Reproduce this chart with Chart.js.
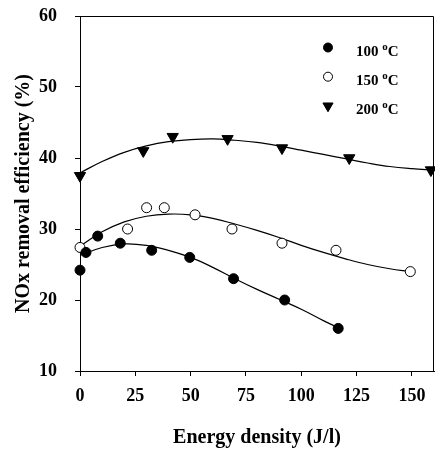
<!DOCTYPE html>
<html>
<head>
<meta charset="utf-8">
<script src="https://cdn.jsdelivr.net/npm/chart.js@4.4.1/dist/chart.umd.min.js"></script>
<style>
  html, body { margin: 0; padding: 0; background: #fff; }
  canvas { display: block; }
</style>
</head>
<body>
<canvas id="noxChart" width="435" height="452"></canvas>
<script>
// measured points, energy density (J/l) vs NOx removal (%)
var energy100 = [0, 2.7, 8.0, 18.2, 32.4, 49.6, 69.4, 92.5, 116.7];
var nox100 = [24.2, 26.7, 29.0, 28.0, 27.0, 26.0, 23.0, 20.0, 16.0];
var energy150 = [0, 21.5, 30.1, 38.1, 52.0, 68.7, 91.3, 115.7, 149.3];
var nox150 = [27.4, 30.0, 33.0, 33.0, 32.0, 30.0, 28.0, 27.0, 24.0];
var energy200 = [0, 28.6, 41.9, 66.7, 91.3, 121.7, 158.6];
var nox200 = [37.5, 41.0, 43.0, 42.7, 41.4, 40.0, 38.3];

// fitted trend curves
var fitX100 = [0, 10, 20, 30, 40, 50, 60, 70, 80, 90, 100, 110, 116.7];
var fitY100 = [26.3, 27.4, 27.9, 27.7, 27.0, 26.0, 24.6, 23.0, 21.5, 20.1, 18.7, 17.1, 16.1];
var fitX150 = [0, 10, 20, 30, 40, 50, 60, 70, 80, 90, 100, 110, 120, 130, 140, 149.3];
var fitY150 = [27.6, 29.6, 31.0, 31.8, 32.1, 32.0, 31.5, 30.7, 29.8, 28.8, 27.7, 26.7, 25.8, 25.0, 24.4, 24.0];
var fitX200 = [0, 10, 20, 30, 40, 50, 60, 70, 80, 90, 100, 110, 120, 130, 140, 150, 160];
var fitY200 = [37.9, 39.5, 40.8, 41.7, 42.3, 42.6, 42.7, 42.5, 42.2, 41.7, 41.1, 40.5, 39.9, 39.3, 38.8, 38.5, 38.3];

var temps = ['100', '150', '200'];
var xTicks = [0, 25, 50, 75, 100, 125, 150];
var yTicks = [10, 20, 30, 40, 50, 60];

var serif = "'Liberation Serif', 'Times New Roman', Times, serif";

function toXY(xs, ys) {
  return xs.map(function (x, i) { return { x: x, y: ys[i] }; });
}

var markers = [
  { pointStyle: 'circle', radius: 5, rotation: 0, fill: '#000' },
  { pointStyle: 'circle', radius: 5, rotation: 0, fill: '#fff' },
  { pointStyle: 'triangle', radius: 6.5, rotation: 180, fill: '#000' }
];

function pointSet(xs, ys, m) {
  return {
    data: toXY(xs, ys),
    showLine: false,
    pointStyle: m.pointStyle,
    pointRotation: m.rotation,
    pointRadius: m.radius,
    pointBackgroundColor: m.fill,
    pointBorderColor: '#000',
    pointBorderWidth: 1,
    clip: false,
    order: 0
  };
}

function fitSet(xs, ys) {
  return {
    data: toXY(xs, ys),
    showLine: true,
    borderColor: '#000',
    borderWidth: 1.2,
    pointRadius: 0,
    tension: 0.4,
    fill: false,
    clip: false,
    order: 1
  };
}

// top and right edges of the plot box
var frame = {
  id: 'frame',
  afterDraw: function (chart) {
    var a = chart.chartArea, ctx = chart.ctx;
    ctx.save();
    ctx.strokeStyle = '#000';
    ctx.lineWidth = 1;
    ctx.beginPath();
    ctx.moveTo(a.left, a.top + 0.5);
    ctx.lineTo(a.right - 0.5, a.top + 0.5);
    ctx.lineTo(a.right - 0.5, a.bottom);
    ctx.stroke();
    ctx.restore();
  }
};

// legend with superscript degree "o"
var tempLegend = {
  id: 'tempLegend',
  afterDraw: function (chart) {
    var a = chart.chartArea, ctx = chart.ctx;
    var mx = a.right - 106, tx = a.right - 78;
    ctx.save();
    temps.forEach(function (t, i) {
      var y = a.top + 31.5 + i * 29.2;
      var m = markers[i];
      ctx.fillStyle = m.fill;
      ctx.strokeStyle = '#000';
      ctx.lineWidth = 1;
      Chart.helpers.drawPoint(ctx, {
        pointStyle: m.pointStyle,
        rotation: m.rotation,
        radius: m.radius * 0.9,
        borderWidth: 1
      }, mx, y);
      ctx.fillStyle = '#000';
      ctx.textBaseline = 'alphabetic';
      ctx.textAlign = 'left';
      var base = y + 8.5;
      ctx.font = 'bold 15px ' + serif;
      var s = t + ' ';
      ctx.fillText(s, tx, base);
      var x = tx + ctx.measureText(s).width;
      ctx.font = 'bold 11px ' + serif;
      ctx.fillText('o', x, base - 6);
      x += ctx.measureText('o').width;
      ctx.font = 'bold 15px ' + serif;
      ctx.fillText('C', x, base);
    });
    ctx.restore();
  }
};

new Chart(document.getElementById('noxChart'), {
  type: 'scatter',
  data: {
    datasets: [
      pointSet(energy100, nox100, markers[0]),
      pointSet(energy150, nox150, markers[1]),
      pointSet(energy200, nox200, markers[2]),
      fitSet(fitX100, fitY100),
      fitSet(fitX150, fitY150),
      fitSet(fitX200, fitY200)
    ]
  },
  options: {
    responsive: false,
    animation: false,
    layout: { autoPadding: false, padding: { top: 16, right: 1, left: 0, bottom: 0 } },
    plugins: {
      legend: { display: false },
      tooltip: { enabled: false }
    },
    scales: {
      x: {
        type: 'linear',
        min: 0,
        max: 160,
        afterBuildTicks: function (s) { s.ticks = xTicks.map(function (v) { return { value: v }; }); },
        afterFit: function (s) { s.height = 81; s.paddingLeft = 0; s.paddingRight = 0; },
        grid: { drawOnChartArea: false, drawTicks: true, tickLength: 5, color: '#000' },
        border: { color: '#000', width: 1 },
        ticks: { padding: 10, color: '#000', font: { family: serif, size: 18, weight: 'bold' }, maxRotation: 0 },
        title: {
          display: true,
          text: 'Energy density (J/l)',
          color: '#000',
          font: { family: serif, size: 20, weight: 'bold' },
          padding: { bottom: 2 }
        }
      },
      y: {
        type: 'linear',
        min: 10,
        max: 60,
        afterBuildTicks: function (s) { s.ticks = yTicks.map(function (v) { return { value: v }; }); },
        afterFit: function (s) { s.width = 80; s.paddingTop = 0; s.paddingBottom = 0; },
        grid: { drawOnChartArea: false, drawTicks: true, tickLength: 5, color: '#000' },
        border: { color: '#000', width: 1 },
        ticks: { padding: 18, color: '#000', font: { family: serif, size: 18, weight: 'bold' } },
        title: {
          display: true,
          text: 'NOx removal efficiency (%)',
          color: '#000',
          font: { family: serif, size: 20, weight: 'bold' },
          padding: { top: 12 }
        }
      }
    }
  },
  plugins: [frame, tempLegend]
});
</script>
</body>
</html>
